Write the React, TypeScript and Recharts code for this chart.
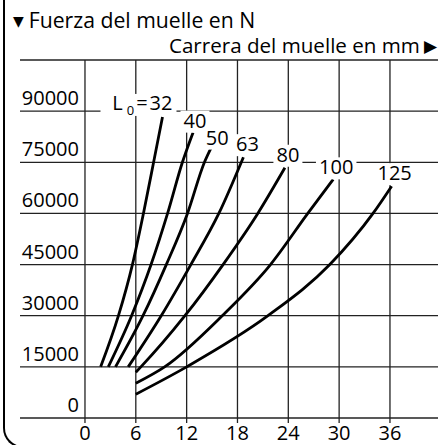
import { LineChart, Line, XAxis, YAxis, CartesianGrid, LabelList } from "recharts";

const FONT = '"Open Sans", "DejaVu Sans", sans-serif';

// x axis: Carrera (mm), y axis: Fuerza (N)
const strokeTicks = [0, 6, 12, 18, 24, 30, 36];
const forceTicks = [0, 15000, 30000, 45000, 60000, 75000, 90000, 105000];

const springLengths = ["32", "40", "50", "63", "80", "100", "125"];

const stroke32 = [1.85, 3.95, 5.6, 6.9, 8.1, 9.15];
const force32 = [15000, 30000, 45000, 60000, 75000, 88300];

const stroke40 = [2.75, 5.5, 7.8, 9.75, 11.5, 12.75];
const force40 = [15000, 30000, 45000, 60000, 75000, 83700];

const stroke50 = [3.6, 6.85, 9.6, 12.1, 14.1, 14.9];
const force50 = [15000, 30000, 45000, 60000, 75000, 79300];

const stroke63 = [5.1, 9.0, 12.5, 15.8, 18.7];
const force63 = [15000, 30000, 45000, 60000, 76500];

const stroke80 = [6.0, 6.6, 11.8, 16.3, 20.4, 23.6];
const force80 = [13440, 15000, 30000, 45000, 60000, 73400];

const stroke100 = [6.0, 9.4, 16.2, 21.9, 26.3, 29.3];
const force100 = [10200, 15000, 30000, 45000, 60000, 70000];

const stroke125 = [6.0, 12.0, 21.6, 28.9, 34.0, 36.2];
const force125 = [6970, 15000, 30000, 45000, 60000, 68000];

const strokeSeries = [stroke32, stroke40, stroke50, stroke63, stroke80, stroke100, stroke125];
const forceSeries = [force32, force40, force50, force63, force80, force100, force125];

// label placement relative to the end of each curve (px)
const labelOffsets = [
  { dx: 10, dy: -7 },
  { dx: 2, dy: -5 },
  { dx: 6, dy: -3 },
  { dx: 4, dy: -6 },
  { dx: 3, dy: -6 },
  { dx: 3, dy: -5 },
  { dx: 3, dy: -6 },
];

const curves = springLengths.map((name, i) => ({
  name,
  data: strokeSeries[i].map((x, j) => ({ x, f: forceSeries[i][j] })),
}));

const YTick = ({ y, payload }: any) => {
  if (payload.value === 105000) return null;
  return (
    <text x={79} y={y - 6} textAnchor="end" fontSize={20} fontFamily={FONT} fill="#000">
      {payload.value}
    </text>
  );
};

const XTick = ({ x, y, payload }: any) => (
  <text x={x} y={y + 15} textAnchor="middle" fontSize={20} fontFamily={FONT} fill="#000">
    {payload.value}
  </text>
);

function makeEndLabel(i: number) {
  const last = curves[i].data.length - 1;
  const off = labelOffsets[i];
  const name = curves[i].name;
  return (props: any) => {
    if (props.index !== last) return null;
    const px = props.x + off.dx;
    const by = props.y + off.dy;
    if (i === 0) {
      const w = 70;
      return (
        <g>
          <rect x={px - w - 2} y={by - 16} width={w + 6} height={22} fill="#fff" />
          <text x={px} y={by} textAnchor="end" fontSize={20} fontFamily={FONT} fill="#000">
            L<tspan fontSize={13} dx={4} dy={5}>0</tspan>
            <tspan dx={2} dy={-5}>=</tspan>
            <tspan dx={2}>{name}</tspan>
          </text>
        </g>
      );
    }
    const w = name.length * 11.5;
    return (
      <g>
        <rect x={px - w / 2 - 3} y={by - 17} width={w + 6} height={22} fill="#fff" />
        <text x={px} y={by} textAnchor="middle" fontSize={20} fontFamily={FONT} fill="#000">
          {name}
        </text>
      </g>
    );
  };
}

export default function App() {
  return (
    <div
      style={{
        position: "absolute",
        left: 0,
        top: 0,
        width: 438,
        height: 445,
        overflow: "hidden",
        background: "#fff",
      }}
    >
      {/* outer frame with rounded bottom-left corner */}
      <div
        style={{
          position: "absolute",
          left: 3,
          top: -20,
          width: 600,
          height: 466,
          borderLeft: "2px solid #000",
          borderBottom: "2px solid #000",
          borderBottomLeftRadius: 20,
        }}
      />
      <svg width={438} height={60} style={{ position: "absolute", left: 0, top: 0 }}>
        <text x={13} y={28} fontSize={21.2} fontFamily={FONT} fill="#000">
          <tspan fontSize={14} dy={-2}>▼</tspan>
          <tspan dx={5} dy={2}>Fuerza del muelle en N</tspan>
        </text>
        <text x={437} y={53} fontSize={20.6} fontFamily={FONT} fill="#000" textAnchor="end">
          Carrera del muelle en mm<tspan dx={4} fontSize={17} dy={-1}>▶</tspan>
        </text>
      </svg>
      <div style={{ position: "absolute", left: 0, top: 0 }}>
        <LineChart width={438} height={445} margin={{ top: 60, right: 0, left: 19, bottom: 0 }}>
          <CartesianGrid stroke="#222" strokeWidth={1.3} syncWithTicks />
          <XAxis
            type="number"
            dataKey="x"
            domain={[-7.67, 41.67]}
            ticks={strokeTicks}
            interval={0}
            allowDataOverflow
            axisLine={false}
            tickLine={{ stroke: "#222", strokeWidth: 1.3 }}
            tickSize={5}
            height={27}
            tick={<XTick />}
          />
          <YAxis
            type="number"
            dataKey="f"
            domain={[0, 105000]}
            ticks={forceTicks}
            interval={0}
            width={1}
            axisLine={false}
            tickLine={false}
            tick={<YTick />}
          />
          {curves.map((c, i) => (
            <Line
              key={c.name}
              data={c.data}
              dataKey="f"
              type="monotone"
              stroke="#000"
              strokeWidth={2.8}
              dot={false}
              isAnimationActive={false}
            >
              <LabelList dataKey="f" content={makeEndLabel(i)} />
            </Line>
          ))}
        </LineChart>
      </div>
    </div>
  );
}
